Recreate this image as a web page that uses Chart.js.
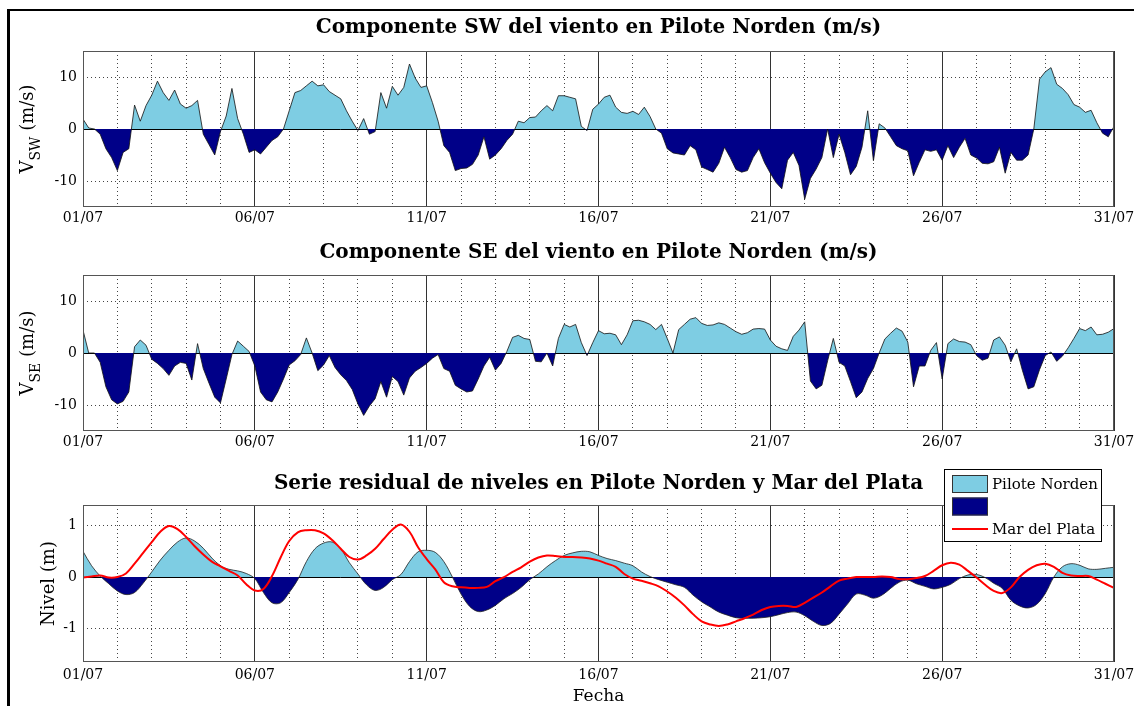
<!DOCTYPE html>
<html>
<head>
<meta charset="utf-8">
<script src="https://cdn.jsdelivr.net/npm/chart.js@4.4.1/dist/chart.umd.min.js"></script>
<style>
  html, body { margin: 0; padding: 0; background: #fff; }
  #wrap { position: relative; width: 1134px; height: 706px; overflow: hidden; background: #fff; }
  #wrap canvas { position: absolute; left: 0; top: 0; }
  #frame { position: absolute; left: 7px; top: 9px; width: 1200px; height: 800px; border-left: 3px solid #000; border-top: 2px solid #000; }
</style>
</head>
<body>
<div id="wrap">
  <div id="frame"></div>
  <canvas id="swChart" width="1134" height="706"></canvas>
  <canvas id="seChart" width="1134" height="706"></canvas>
  <canvas id="levelChart" width="1134" height="706"></canvas>
</div>
<script>
// time axis: days since 01/07 00:00
const WIND_STEP = 1 / 6;    // wind samples every 4 h
const LEVEL_STEP = 1 / 4;   // level samples every 6 h
const dayTicks = [0, 5, 10, 15, 20, 25, 30];
const dayLabels = ['01/07', '06/07', '11/07', '16/07', '21/07', '26/07', '31/07'];
const windTicks = [-10, 0, 10];
const levelTicks = [-1, 0, 1];

// SW component of wind (m/s)
const swValues = [
  1.9, 0.2, 0, -1, -3.8, -5.5, -8, -4.5, -3.8, 4.6, 1.5, 4.5,
  6.5, 9.2, 7, 5.5, 7.5, 4.8, 4.0, 4.5, 5.5, -1, -3, -5,
  -0.5, 2.5, 7.8, 2, -1, -4.5, -4, -4.8, -3.5, -2.2, -1.5, 0,
  3.5, 7, 7.4, 8.3, 9.2, 8.3, 8.5, 7.2, 6.5, 5.8, 3.5, 1.5,
  -0.3, 2, -1, -0.5, 7, 4, 8.2, 6.5, 8, 12.5, 9.8, 8,
  8.3, 5.1, 1.5, -3.2, -4.5, -8.0, -7.6, -7.5, -6.8, -5, -1.5, -5.8,
  -5, -3.8, -2.2, -1.0, 1.5, 1.2, 2.2, 2.3, 3.5, 4.5, 3.5, 6.4,
  6.4, 6.1, 5.8, 0.5, -0.3, 3.8, 4.8, 6.1, 6.5, 4.2, 3.2, 3.0,
  3.4, 2.8, 4.2, 2.4, 0, -0.8, -3.8, -4.6, -4.8, -5, -3.2, -4,
  -7.3, -7.8, -8.3, -6.6, -3.5, -5.5, -7.8, -8.3, -8, -5.5, -3.8, -6.5,
  -8.5, -10.3, -11.5, -6, -4.5, -7, -13.5, -9.5, -7.7, -5.5, 0, -5.5,
  -1, -4.5, -8.8, -7.2, -3.5, 3.5, -6.1, 1.0, 0.2, -1.5, -3.2, -3.8,
  -4.2, -9, -6.4, -4, -4.3, -4, -6, -3.2, -5.5, -3.5, -1.8, -5,
  -5.6, -6.6, -6.7, -6.3, -3.5, -8.5, -4.5, -6, -6, -5, 0, 9.6,
  11, 11.8, 8.6, 7.8, 6.6, 4.7, 4.2, 3.2, 3.6, 1.2, -0.8, -1.5,
  0.5
];

// SE component of wind (m/s)
const seValues = [
  4.4, 0, 0, -1.8, -6.5, -9, -9.8, -9.3, -7.5, 1.2, 2.5, 1.5,
  -1.2, -2, -3, -4.3, -2.5, -1.8, -2, -5.2, 1.8, -3, -5.8, -8.5,
  -9.6, -5, -0.3, 2.3, 1.3, 0.3, -2.5, -7.5, -9, -9.4, -7.5, -5,
  -2.3, -1.5, -0.3, 2.9, 0, -3.4, -2.3, -0.5, -2.8, -4.2, -5.3, -7,
  -9.8, -12, -10.2, -8.8, -5.5, -8.5, -4.5, -5.5, -8.1, -4.8, -3.5, -2.8,
  -2, -1, -0.3, -3, -3.5, -6.2, -6.9, -7.5, -7.3, -5, -2.5, -0.8,
  -3.3, -2, 0.3, 3, 3.4, 2.8, 2.6, -1.6, -1.7, 0, -2.5, 2.8,
  5.5, 5, 5.5, 2, -0.5, 2, 4.3, 3.7, 3.8, 3.5, 1.6, 3.5,
  6.2, 6.3, 6, 5.5, 4.5, 5.5, 2.8, 0, 4.5, 5.5, 6.5, 6.8,
  5.7, 5.3, 5.4, 5.8, 5.5, 4.8, 4.1, 3.6, 3.9, 4.6, 4.7, 4.6,
  2.5, 1.3, 0.8, 0.5, 3.2, 4.4, 6, -5.4, -6.9, -6.2, -1.5, 2.8,
  -1.8, -2.5, -5.5, -8.6, -7.5, -4.9, -3, 0, 2.7, 3.8, 4.8, 4.2,
  2.1, -6.5, -2.5, -2.5, 0.5, 2, -5, 1.8, 2.7, 2.2, 2.1, 1.6,
  -0.5, -1.4, -1, 2.5, 3.1, 1.5, -1.7, 0.8, -3.3, -6.9, -6.5, -3.2,
  -0.5, 0.2, -1.6, -0.6, 1, 2.8, 4.7, 4.3, 5, 3.5, 3.6, 4,
  4.7
];

// residual level, Pilote Norden (m)
const pnValues = [
  0.5, 0.22, 0.02, -0.13, -0.27, -0.34, -0.3, -0.12, 0.1, 0.33, 0.52, 0.68,
  0.76, 0.70, 0.56, 0.37, 0.22, 0.15, 0.12, 0.07, -0.03, -0.3, -0.5, -0.5,
  -0.3, -0.05, 0.3, 0.55, 0.66, 0.68, 0.55, 0.28, 0.06, -0.15, -0.26, -0.2,
  -0.05, 0.05, 0.3, 0.49, 0.52, 0.48, 0.3, 0.0, -0.33, -0.57, -0.67, -0.64,
  -0.55, -0.42, -0.32, -0.2, -0.05, 0.06, 0.2, 0.32, 0.42, 0.47, 0.5, 0.49,
  0.42, 0.36, 0.32, 0.27, 0.22, 0.1, 0.01, -0.05, -0.1, -0.15, -0.2, -0.35,
  -0.48, -0.58, -0.68, -0.74, -0.79, -0.8, -0.8, -0.79, -0.77, -0.73, -0.69, -0.68,
  -0.75, -0.86, -0.94, -0.9, -0.72, -0.52, -0.33, -0.35, -0.41, -0.35, -0.22, -0.1,
  -0.06, -0.13, -0.18, -0.23, -0.2, -0.14, -0.03, 0.04, 0.05, -0.01, -0.12, -0.22,
  -0.45, -0.56, -0.6, -0.53, -0.32, 0.0, 0.2, 0.26, 0.23, 0.16, 0.15, 0.17,
  0.19
];

// residual level, Mar del Plata (m)
const mdpValues = [
  -0.01, 0.01, 0.03, -0.01, 0, 0.07, 0.26, 0.47, 0.68, 0.88, 0.99, 0.93,
  0.78, 0.6, 0.44, 0.3, 0.21, 0.12, 0.03, -0.14, -0.26, -0.23, 0.02, 0.38,
  0.7, 0.87, 0.91, 0.91, 0.85, 0.72, 0.55, 0.39, 0.34, 0.42, 0.55, 0.74,
  0.92, 1.02, 0.88, 0.58, 0.35, 0.15, -0.1, -0.18, -0.2, -0.21, -0.21, -0.19,
  -0.08, 0.0, 0.1, 0.19, 0.3, 0.38, 0.42, 0.41, 0.39, 0.39, 0.38, 0.36,
  0.32, 0.26, 0.2, 0.06, -0.03, -0.07, -0.12, -0.18, -0.28, -0.4, -0.55, -0.72,
  -0.86, -0.92, -0.95, -0.92, -0.86, -0.8, -0.73, -0.64, -0.58, -0.56, -0.56, -0.58,
  -0.5, -0.4, -0.3, -0.18, -0.07, -0.03, 0, 0, 0, 0.01, 0, -0.04,
  -0.04, -0.02, 0.02, 0.12, 0.23, 0.28, 0.24, 0.12, -0.01, -0.15, -0.27, -0.31,
  -0.2, 0.0, 0.14, 0.23, 0.26, 0.2, 0.08, 0.03, 0.02, 0.02, -0.05, -0.13,
  -0.21
];

const legendLabels = ['Pilote Norden', '', 'Mar del Plata'];

const CYAN = '#7ecde3';
const NAVY = '#000088';
const RED = '#ff0000';
const SERIF = "'DejaVu Serif', serif";

const toPoints = (values, step) => values.map((v, i) => ({ x: i * step, y: v }));

// axes box around the plotting area
const frameBox = {
    id: 'frameBox',
    afterDraw(chart) {
        const { ctx, chartArea: a } = chart;
        ctx.save();
        ctx.strokeStyle = '#555';
        ctx.lineWidth = 1;
        ctx.strokeRect(Math.round(a.left) + 0.5, Math.round(a.top) + 0.5,
            Math.round(a.right - a.left) - 1, Math.round(a.bottom - a.top) - 1);
        ctx.restore();
    }
};

// rotated y label with optional subscript (V_SW, V_SE)
const yLabel = {
    id: 'yLabel',
    afterDraw(chart, args, opts) {
        const { ctx, chartArea: a } = chart;
        const mainFont = `${opts.size}px ${SERIF}`;
        const subFont = `${opts.subSize}px ${SERIF}`;
        ctx.save();
        ctx.font = mainFont;
        const w1 = ctx.measureText(opts.main).width;
        const w3 = opts.rest ? ctx.measureText(opts.rest).width : 0;
        ctx.font = subFont;
        const w2 = opts.sub ? ctx.measureText(opts.sub).width : 0;
        const total = w1 + w2 + w3;
        ctx.translate(opts.x, (a.top + a.bottom) / 2 + (opts.shift || 0));
        ctx.rotate(-Math.PI / 2);
        ctx.fillStyle = '#000';
        ctx.textBaseline = 'alphabetic';
        ctx.textAlign = 'left';
        let pos = -total / 2;
        ctx.font = mainFont;
        ctx.fillText(opts.main, pos, 0);
        pos += w1;
        if (opts.sub) {
            ctx.font = subFont;
            ctx.fillText(opts.sub, pos, opts.subDrop);
            pos += w2;
        }
        if (opts.rest) {
            ctx.font = mainFont;
            ctx.fillText(opts.rest, pos, 0);
        }
        ctx.restore();
    }
};

// boxed legend drawn inside the level panel
const boxLegend = {
    id: 'boxLegend',
    afterDraw(chart, args, opts) {
        const { ctx } = chart;
        const area = chart.data.datasets.find(d => d.fill);
        const line = chart.data.datasets.find(d => !d.fill);
        const swatches = [
            { kind: 'patch', color: area.fill.above },
            { kind: 'patch', color: area.fill.below },
            { kind: 'line', color: line.borderColor }
        ];
        ctx.save();
        ctx.fillStyle = '#fff';
        ctx.fillRect(opts.left, opts.top, opts.width, opts.height);
        ctx.strokeStyle = '#000';
        ctx.lineWidth = 1;
        ctx.strokeRect(opts.left + 0.5, opts.top + 0.5, opts.width, opts.height);
        ctx.font = `${opts.fontSize}px ${SERIF}`;
        ctx.textBaseline = 'middle';
        ctx.textAlign = 'left';
        swatches.forEach((s, i) => {
            const cy = opts.top + opts.firstRow + i * opts.rowGap;
            const x0 = opts.left + 8;
            if (s.kind === 'patch') {
                ctx.fillStyle = s.color;
                ctx.fillRect(x0, cy - 9, 36, 18);
                ctx.strokeStyle = '#333';
                ctx.strokeRect(x0 + 0.5, cy - 8.5, 35, 17);
            } else {
                ctx.strokeStyle = s.color;
                ctx.lineWidth = 2;
                ctx.beginPath();
                ctx.moveTo(x0, cy);
                ctx.lineTo(x0 + 36, cy);
                ctx.stroke();
                ctx.lineWidth = 1;
            }
            if (legendLabels[i]) {
                ctx.fillStyle = '#000';
                ctx.fillText(legendLabels[i], x0 + 40, cy + 1);
            }
        });
        ctx.restore();
    }
};

const makePanel = (id, p) => {
    const tickFont = { family: SERIF, size: 14 };
    return new Chart(document.getElementById(id), {
        type: 'line',
        data: { datasets: p.datasets },
        options: {
            responsive: false,
            animation: false,
            events: [],
            layout: { padding: { left: 0, right: 20, top: p.padTop, bottom: p.padBottom } },
            plugins: {
                legend: { display: false },
                tooltip: { enabled: false },
                title: {
                    display: true,
                    fullSize: false,
                    text: p.title,
                    color: '#000',
                    font: { family: SERIF, size: 20, weight: 'bold', lineHeight: 1.2 },
                    padding: { top: 0, bottom: p.titleGap }
                },
                yLabel: p.ylab,
                boxLegend: p.legend || {}
            },
            scales: {
                x: {
                    type: 'linear', min: 0, max: 30, position: 'bottom', z: 1,
                    afterBuildTicks: ax => { ax.ticks = dayTicks.map(v => ({ value: v })); },
                    afterFit: ax => { ax.height = p.xHeight; ax.paddingLeft = 0; ax.paddingRight = 0; },
                    ticks: {
                        autoSkip: false, maxRotation: 0, padding: p.xPad, color: '#000', font: tickFont,
                        callback: (v, i) => dayLabels[i]
                    },
                    grid: { color: '#333', lineWidth: 1, drawTicks: false },
                    border: { display: false },
                    title: p.xTitle || { display: false }
                },
                xd: {
                    type: 'linear', min: 0, max: 30, position: 'bottom',
                    afterFit: ax => { ax.height = 0; ax.paddingLeft = 0; ax.paddingRight = 0; },
                    ticks: { display: false, stepSize: 1 },
                    grid: {
                        drawTicks: false, lineWidth: 1,
                        color: c => (c.tick && c.tick.value % 5 === 0) ? 'rgba(0,0,0,0)' : '#444'
                    },
                    border: { display: false, dash: [1, 3] }
                },
                y: {
                    min: p.yMin, max: p.yMax, position: 'left',
                    afterBuildTicks: ax => { ax.ticks = p.yTicks.map(v => ({ value: v })); },
                    afterFit: ax => { ax.width = 83; },
                    ticks: { padding: 6, color: '#000', font: tickFont, callback: v => String(v) },
                    grid: {
                        drawTicks: false, lineWidth: 1,
                        color: c => (c.tick && c.tick.value === 0) ? 'rgba(0,0,0,0)' : '#444'
                    },
                    border: { display: false, dash: [1, 3] }
                },
                yz: {
                    min: p.yMin, max: p.yMax, position: 'right', z: 1,
                    afterBuildTicks: ax => { ax.ticks = [{ value: 0 }]; },
                    afterFit: ax => { ax.width = 0; },
                    ticks: { display: false },
                    grid: { drawTicks: false, color: '#000', lineWidth: 1 },
                    border: { display: false }
                }
            }
        },
        plugins: p.legend ? [frameBox, yLabel, boxLegend] : [frameBox, yLabel]
    });
};

const windArea = (values) => ({
    label: 'viento',
    data: toPoints(values, WIND_STEP),
    xAxisID: 'x', yAxisID: 'y',
    borderColor: '#111', borderWidth: 0.8,
    pointRadius: 0, tension: 0,
    fill: { target: { value: 0 }, above: CYAN, below: NAVY }
});

makePanel('swChart', {
    title: 'Componente SW del viento en Pilote Norden (m/s)',
    padTop: 16, titleGap: 11, padBottom: 469, xHeight: 30, xPad: 3,
    yMin: -15, yMax: 15, yTicks: windTicks,
    ylab: { main: 'V', sub: 'SW', rest: ' (m/s)', x: 33, size: 18, subSize: 14, subDrop: 7 },
    datasets: [windArea(swValues)]
});

makePanel('seChart', {
    title: 'Componente SE del viento en Pilote Norden (m/s)',
    padTop: 241, titleGap: 10, padBottom: 245, xHeight: 30, xPad: 3,
    yMin: -15, yMax: 15, yTicks: windTicks,
    ylab: { main: 'V', sub: 'SE', rest: ' (m/s)', x: 33, size: 18, subSize: 14, subDrop: 7 },
    datasets: [windArea(seValues)]
});

makePanel('levelChart', {
    title: 'Serie residual de niveles en Pilote Norden y Mar del Plata',
    padTop: 472, titleGap: 9, padBottom: 0, xHeight: 44, xPad: 5,
    yMin: -1.65, yMax: 1.4, yTicks: levelTicks,
    ylab: { main: 'Nivel (m)', x: 54, size: 18, subSize: 14 },
    xTitle: {
        display: true, text: 'Fecha', color: '#000',
        font: { family: SERIF, size: 17, lineHeight: 1 },
        padding: { top: 0, bottom: 0.5 }
    },
    legend: { left: 944, top: 469, width: 157, height: 72, firstRow: 15, rowGap: 22.5, fontSize: 15 },
    datasets: [
        {
            label: 'Mar del Plata',
            data: toPoints(mdpValues, LEVEL_STEP),
            xAxisID: 'x', yAxisID: 'y',
            borderColor: RED, borderWidth: 2,
            pointRadius: 0, tension: 0.35, fill: false, order: 0
        },
        {
            label: 'Pilote Norden',
            data: toPoints(pnValues, LEVEL_STEP),
            xAxisID: 'x', yAxisID: 'y',
            borderColor: '#222', borderWidth: 0.8,
            pointRadius: 0, tension: 0.35, order: 1,
            fill: { target: { value: 0 }, above: CYAN, below: NAVY }
        }
    ]
});
</script>
</body>
</html>
